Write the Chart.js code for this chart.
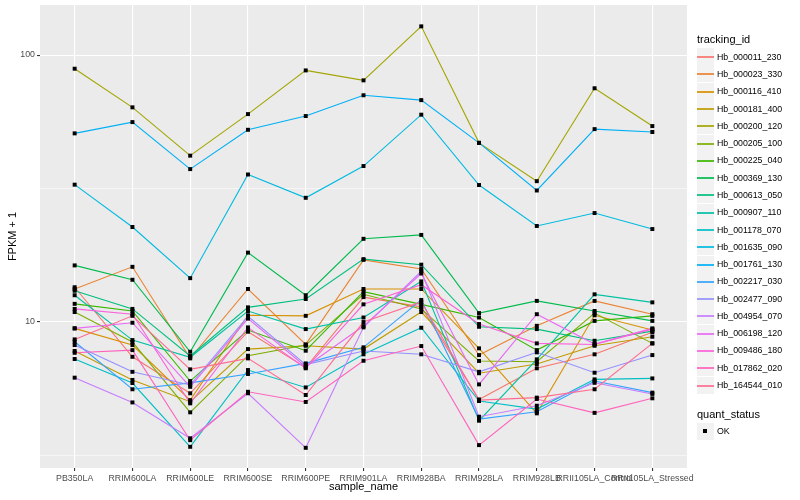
<!DOCTYPE html>
<html>
<head>
<meta charset="utf-8">
<script src="https://cdn.jsdelivr.net/npm/chart.js@4.4.0/dist/chart.umd.min.js"></script>
<style>
  body { margin: 0; background: #fff; font-family: "Liberation Sans", Arial, sans-serif; }
  #wrap { position: relative; width: 800px; height: 500px; overflow: hidden; }
  #osChart { position: absolute; left: 0; top: 0; }
  #legend div { position: absolute; white-space: nowrap; }
  .ttl { font-size: 11px; color: #000; height: 14px; line-height: 14px; }
  .key { width: 17px; height: 17px; background: #F2F2F2; }
  .key span { position: absolute; display: block; left: 0; width: 17px; top: 8px; height: 2px; opacity: 0.85; }
  .lbl { font-size: 8.8px; color: #000; height: 12px; line-height: 12px; }
</style>
</head>
<body>
<div id="wrap">
  <canvas id="osChart" width="800" height="500"></canvas>
  <div id="legend"></div>
</div>
<script>
const categories = ['PB350LA', 'RRIM600LA', 'RRIM600LE', 'RRIM600SE', 'RRIM600PE', 'RRIM901LA',
  'RRIM928BA', 'RRIM928LA', 'RRIM928LB', 'RRII105LA_Control', 'RRII105LA_Stressed'];

const seriesNames = ['Hb_000011_230', 'Hb_000023_330', 'Hb_000116_410', 'Hb_000181_400', 'Hb_000200_120',
  'Hb_000205_100', 'Hb_000225_040', 'Hb_000369_130', 'Hb_000613_050', 'Hb_000907_110',
  'Hb_001178_070', 'Hb_001635_090', 'Hb_001761_130', 'Hb_002217_030', 'Hb_002477_090',
  'Hb_004954_070', 'Hb_006198_120', 'Hb_009486_180', 'Hb_017862_020', 'Hb_164544_010'];

const seriesColors = ['#F8766D', '#EA8331', '#D89000', '#C09B00', '#A3A500', '#7CAE00', '#39B600',
  '#00BB4E', '#00BF7D', '#00C1A3', '#00BFC4', '#00BAE0', '#00B0F6', '#35A2FF', '#9590FF',
  '#C77CFF', '#E76BF3', '#FA62DB', '#FF62BC', '#FF6C91'];

// FPKM + 1, one value per sample
const hb_000011_230 = [13.5, 7.41, 5.41, 9.20, 6.75, 12.4, 11.4, 5.13, 6.71, 7.57, 9.15];
const hb_000023_330 = [13.3, 16.1, 7.31, 13.3, 8.25, 17.1, 15.8, 7.52, 9.68, 12.0, 10.7];
const hb_000116_410 = [9.47, 8.20, 5.10, 10.6, 10.55, 13.3, 13.3, 7.97, 4.55, 10.6, 9.33];
const hb_000181_400 = [7.79, 6.07, 5.03, 7.92, 8.15, 7.92, 10.9, 6.43, 6.96, 8.15, 8.81];
const hb_000200_120 = [88.9, 63.7, 42.0, 60.1, 87.6, 80.4, 128.1, 46.9, 33.7, 75.1, 54.2];
const hb_000205_100 = [10.9, 8.42, 4.59, 7.48, 8.20, 12.7, 11.2, 7.15, 7.10, 10.8, 8.32];
const hb_000225_040 = [11.7, 11.0, 6.01, 9.33, 7.81, 13.0, 11.65, 10.4, 7.85, 10.1, 10.55];
const hb_000369_130 = [16.3, 14.4, 7.74, 18.2, 12.6, 20.5, 21.2, 10.8, 12.0, 11.0, 10.1];
const hb_000613_050 = [13.1, 11.2, 7.46, 11.35, 12.2, 17.2, 16.4, 9.60, 9.41, 8.51, 9.25];
const hb_000907_110 = [12.6, 8.56, 7.38, 11.0, 9.41, 10.4, 14.2, 4.27, 7.25, 12.7, 11.85];
const hb_001178_070 = [7.27, 5.91, 3.41, 6.61, 5.69, 7.57, 9.52, 5.06, 4.72, 6.10, 6.15];
const hb_001635_090 = [32.7, 22.7, 14.6, 35.7, 29.2, 38.4, 59.8, 32.6, 22.9, 25.6, 22.3];
const hb_001761_130 = [50.9, 56.1, 37.4, 52.5, 59.1, 70.7, 67.8, 46.9, 31.1, 52.8, 51.5];
const hb_002217_030 = [8.44, 5.60, 5.92, 6.39, 7.00, 8.04, 12.1, 4.33, 4.61, 6.01, 5.44];
const hb_002477_090 = [8.20, 6.51, 5.81, 10.5, 6.93, 7.79, 7.57, 6.51, 7.70, 6.46, 7.52];
const hb_004954_070 = [6.19, 5.00, 3.67, 5.41, 3.38, 9.55, 15.5, 4.42, 4.86, 5.92, 5.38];
const hb_006198_120 = [9.47, 9.94, 5.72, 10.3, 6.80, 9.66, 15.2, 5.84, 10.7, 8.27, 9.47];
const hb_009486_180 = [11.2, 10.7, 4.96, 9.55, 6.71, 11.65, 13.8, 9.83, 8.32, 8.24, 9.41];
const hb_017862_020 = [7.67, 7.85, 3.61, 5.48, 5.02, 7.16, 8.13, 3.46, 5.15, 4.57, 5.18];
const hb_164544_010 = [8.61, 10.55, 6.65, 7.31, 5.33, 10.0, 11.9, 5.10, 5.21, 5.60, 8.32];

const seriesValues = [hb_000011_230, hb_000023_330, hb_000116_410, hb_000181_400, hb_000200_120,
  hb_000205_100, hb_000225_040, hb_000369_130, hb_000613_050, hb_000907_110,
  hb_001178_070, hb_001635_090, hb_001761_130, hb_002217_030, hb_002477_090,
  hb_004954_070, hb_006198_120, hb_009486_180, hb_017862_020, hb_164544_010];

const yTickValues = [3.162, 10, 31.62, 100];
const yTickLabels = ['', '10', '', '100'];
const statusLabels = ['OK'];

const lineSets = seriesNames.map((name, i) => ({
  label: name,
  data: seriesValues[i].map((v, j) => ({ x: j, y: v })),
  borderColor: seriesColors[i],
  borderWidth: 1.1,
  pointRadius: 0,
  fill: false,
  tension: 0,
  order: 20 - i
}));

const pointSet = {
  label: statusLabels[0],
  data: seriesValues.flatMap(vals => vals.map((v, j) => ({ x: j, y: v }))),
  showLine: false,
  pointStyle: 'rect',
  pointRadius: 2.8,
  pointBackgroundColor: '#000',
  pointBorderWidth: 0,
  order: -1
};

const panelBg = {
  id: 'panelBg',
  beforeDraw(chart) {
    const { ctx, chartArea: a } = chart;
    ctx.save();
    ctx.fillStyle = '#EBEBEB';
    ctx.fillRect(a.left, a.top, a.right - a.left, a.bottom - a.top);
    ctx.restore();
  }
};

const isMajor = v => yTickLabels[yTickValues.indexOf(v)] !== '';

const ctx = document.getElementById('osChart').getContext('2d');
const chart = new Chart(ctx, {
  type: 'line',
  data: { datasets: [...lineSets, pointSet] },
  plugins: [panelBg],
  options: {
    responsive: false,
    animation: false,
    layout: { padding: { left: 0, right: 113, top: 5, bottom: 0 } },
    plugins: { legend: { display: false }, tooltip: { enabled: false } },
    scales: {
      x: {
        type: 'linear',
        min: -0.6,
        max: 10.6,
        afterBuildTicks: s => { s.ticks = categories.map((c, i) => ({ value: i })); },
        afterFit: s => { s.height = 32; s.paddingLeft = 0; s.paddingRight = 0; },
        ticks: {
          autoSkip: false, maxRotation: 0, minRotation: 0, padding: 2,
          color: '#4D4D4D', font: { family: 'Liberation Sans', size: 8.8 },
          callback: (v, i) => categories[i]
        },
        grid: { color: '#FFFFFF', lineWidth: 1.1, tickColor: '#333333', tickLength: 3 },
        border: { display: false },
        title: { display: true, text: 'sample_name', color: '#000',
          font: { family: 'Liberation Sans', size: 11 }, padding: { top: 0, bottom: 6 } }
      },
      y: {
        type: 'logarithmic',
        min: 2.84,
        max: 154,
        afterBuildTicks: s => { s.ticks = yTickValues.map(v => ({ value: v })); },
        afterFit: s => { s.width = 40; s.paddingTop = 0; s.paddingBottom = 0; },
        ticks: {
          autoSkip: false, padding: 2,
          color: '#4D4D4D', font: { family: 'Liberation Sans', size: 8.8 },
          callback: (v, i) => yTickLabels[i]
        },
        grid: {
          color: '#FFFFFF',
          lineWidth: c => (c.tick && isMajor(c.tick.value)) ? 1.1 : 0.55,
          tickColor: c => (c.tick && isMajor(c.tick.value)) ? '#333333' : 'rgba(0,0,0,0)',
          tickLength: 3
        },
        border: { display: false },
        title: { display: true, text: 'FPKM + 1', color: '#000',
          font: { family: 'Liberation Sans', size: 11 }, padding: { top: 6, bottom: 0 } }
      }
    }
  }
});

// ggplot-style legend on the right
const legend = document.getElementById('legend');
function place(cls, x, y, html) {
  const d = document.createElement('div');
  d.className = cls;
  d.style.left = x + 'px';
  d.style.top = Math.round(y) + 'px';
  d.innerHTML = html;
  legend.appendChild(d);
  return d;
}
place('ttl', 697, 32, 'tracking_id');
seriesNames.forEach((name, i) => {
  const cy = 56.7 + i * 17.28;
  const k = place('key', 697, cy - 8.5, '');
  const ln = document.createElement('span');
  ln.style.background = seriesColors[i];
  k.appendChild(ln);
  place('lbl', 717, cy - 6, name);
});
place('ttl', 697, 407, 'quant_status');
const okY = 431;
const okKey = place('key', 697, okY - 8.5, '');
const sq = document.createElement('span');
sq.style.cssText = 'left:6px;width:4px;height:4px;top:6px;opacity:1;background:#000;';
okKey.appendChild(sq);
place('lbl', 717, okY - 6, statusLabels[0]);
</script>
</body>
</html>
